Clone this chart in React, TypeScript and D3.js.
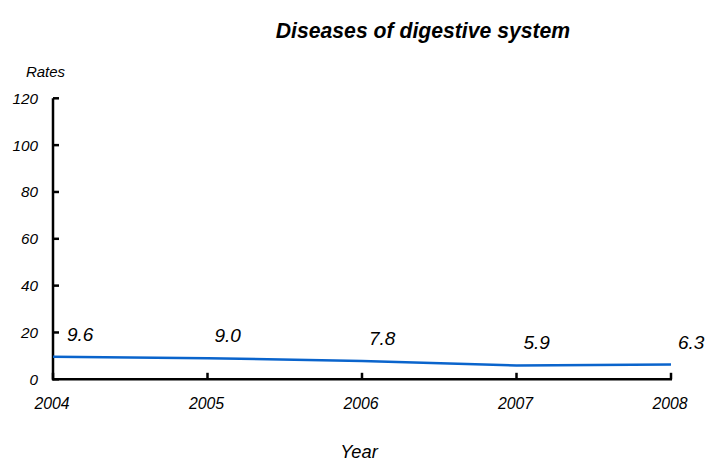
import React from "react";
import * as d3 from "d3";

const years = [2004, 2005, 2006, 2007, 2008];
const rates = [9.6, 9.0, 7.8, 5.9, 6.3];
const yTicks = [0, 20, 40, 60, 80, 100, 120];
const title = "Diseases of digestive system";
const yLabel = "Rates";
const xLabel = "Year";

const W = 709;
const H = 462;
const FONT = "'Liberation Sans', Arial, sans-serif";

export default function App() {
  const x = d3.scaleLinear().domain([2004, 2008]).range([53, 671]);
  const y = d3.scaleLinear().domain([0, 120]).range([379.3, 98.3]);
  const line = d3
    .line<number>()
    .x((_, i) => x(years[i]))
    .y((d) => y(d));

  return (
    <svg
      width={W}
      height={H}
      style={{ position: "absolute", left: 0, top: 0, background: "#fff" }}
      fontFamily={FONT}
    >
      <text x={423} y={38} textAnchor="middle" fontSize={21.2} fontWeight="bold" fontStyle="italic">
        {title}
      </text>
      <text x={45.5} y={76.5} textAnchor="middle" fontSize={15} fontStyle="italic">
        {yLabel}
      </text>
      {/* y axis */}
      <line x1={53} x2={53} y1={y(120)} y2={y(0) + 1} stroke="#000" strokeWidth={2.5} />
      {yTicks.map((t) => (
        <g key={t}>
          <line x1={53} x2={59} y1={y(t)} y2={y(t)} stroke="#000" strokeWidth={2.5} />
          <text x={38} y={y(t) + 5.5} textAnchor="end" fontSize={15.3} fontStyle="italic">
            {t}
          </text>
        </g>
      ))}
      {/* x axis */}
      <line x1={52} x2={x(2008) + 1} y1={y(0)} y2={y(0)} stroke="#000" strokeWidth={2.5} />
      {years.map((yr) => (
        <g key={yr}>
          <line x1={x(yr)} x2={x(yr)} y1={y(0)} y2={y(0) - 6.5} stroke="#000" strokeWidth={2.5} />
          <text x={x(yr) - 1} y={409.3} textAnchor="middle" fontSize={15.8} fontStyle="italic">
            {yr}
          </text>
        </g>
      ))}
      <text x={359} y={458.3} textAnchor="middle" fontSize={18.3} fontStyle="italic">
        {xLabel}
      </text>
      <path d={line(rates) || ""} fill="none" stroke="#0a64cc" strokeWidth={2.5} />
      {rates.map((v, i) => (
        <text
          key={i}
          x={x(years[i]) + (i === 0 ? 14 : 7)}
          y={y(v) - 16}
          fontSize={19}
          fontStyle="italic"
        >
          {v.toFixed(1)}
        </text>
      ))}
    </svg>
  );
}
